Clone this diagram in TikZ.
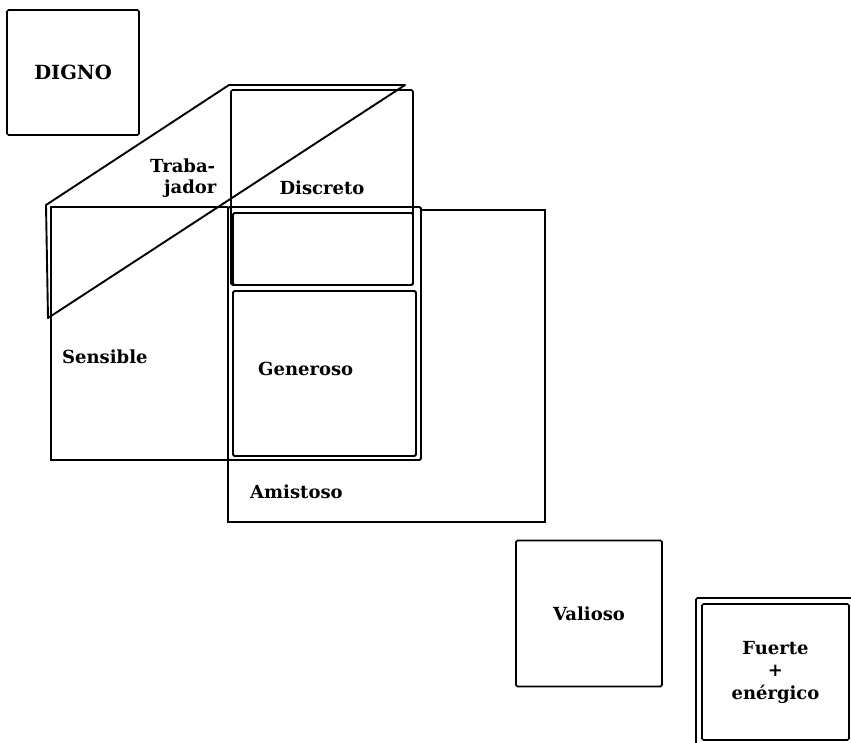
\documentclass[tikz,border=0pt]{standalone}
\usepackage{fontspec}
\setmainfont{DejaVu Serif}
\usetikzlibrary{positioning}
\tikzset{
  box/.style={rectangle, rounded corners=1.5pt, draw=black, line width=1.7pt,
              text centered, align=center, inner sep=0pt,
              font=\fontsize{18}{22.5}\selectfont\bfseries},
  frame/.style={draw=black, line width=1.8pt, rounded corners=1.5pt},
  plain/.style={draw=black, line width=1.4pt},
  lbl/.style={inner sep=0pt, anchor=base west,
              font=\fontsize{18}{20}\selectfont\bfseries},
}

\begin{document}
\begin{tikzpicture}[x=1pt, y=-1pt]
  \useasboundingbox (0,0) rectangle (851,742);
  \clip (0,0) rectangle (851,742);

  % Top left box
  \node[box, minimum width=132pt, minimum height=125pt,
        font=\fontsize{19.5}{22}\selectfont\bfseries] (digno) at (73,72.5) {DIGNO};

  % Slanted strip
  \draw[line width=1.9pt, line join=round] (46,205) -- (229,85) -- (405,85) -- (48,318) -- cycle;
  \node[lbl] (traba) at (150,172) {Traba-};
  \node[lbl] (jador) at (164,193) {jador};

  % Tall box on top
  \node[box, minimum width=182pt, minimum height=195pt] (discreto) at (322,187.5) {Discreto};

  % Overlapping rectangles (shared edges drawn by the frame)
  \draw[plain] (228,207) -- (51,207) -- (51,460) -- (228,460);
  \node[lbl] (sensible) at (62,363) {Sensible};
  \draw[plain] (421,210) -- (545,210) -- (545,522) -- (228,522) -- (228,460);
  \node[lbl] (amistoso) at (250,498) {Amistoso};

  % Common part
  \draw[frame] (228,207) rectangle (421,460);
  \draw[frame] (233,213) rectangle (413,285);
  \draw[frame] (233,291) rectangle (416,456);
  \node[lbl] (generoso) at (258,375) {Generoso};

  % Lower right boxes
  \node[box, minimum width=146pt, minimum height=146pt] (valioso) at (589,613.5) {Valioso};
  \node[box, minimum width=160pt, minimum height=148pt] (fuerteout) at (776,672) {};
  \node[box, minimum width=147pt, minimum height=136pt] (fuerte) at (775.5,672)
    {Fuerte\\+\\enérgico};
\end{tikzpicture}
\end{document}
